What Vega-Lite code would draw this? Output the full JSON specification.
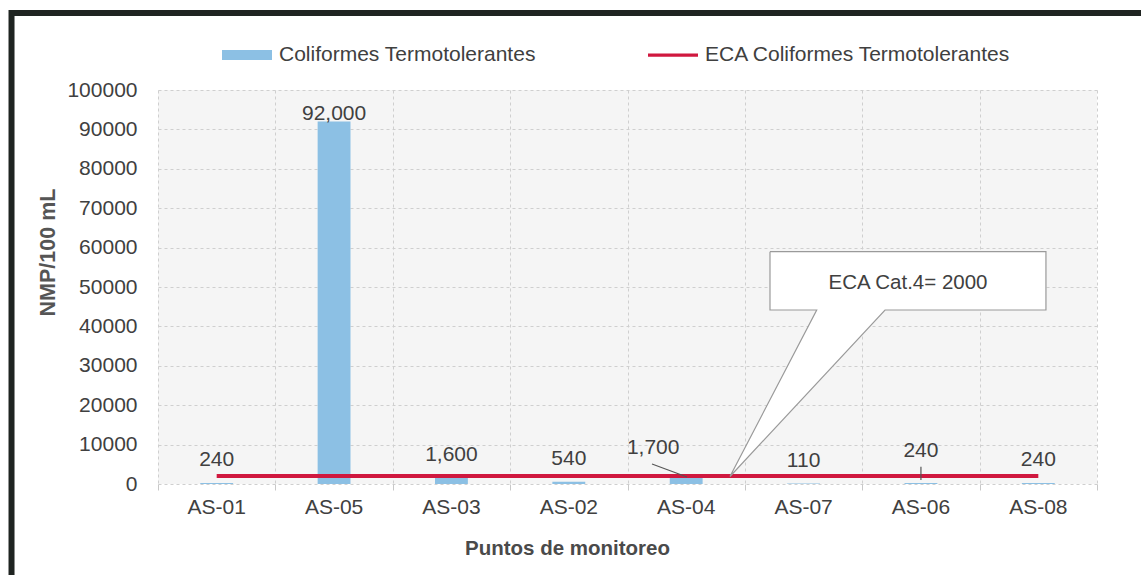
{
  "$schema": "https://vega.github.io/schema/vega-lite/v6.json",
  "width": 939,
  "height": 394,
  "autosize": "none",
  "padding": {"left": 158, "top": 90, "right": 44, "bottom": 91},
  "background": "white",
  "config": {
    "font": "Liberation Sans",
    "view": {"fill": "#f5f5f5", "stroke": null},
    "axisY": {
      "labelOverlap": false,
      "format": "d",
      "labelFontSize": 21,
      "labelColor": "#404040",
      "labelPadding": 21,
      "ticks": false,
      "domain": false,
      "grid": true,
      "gridColor": "#cfcfcf",
      "gridDash": [3, 3],
      "titleFontSize": 21.5,
      "titleFontWeight": "bold",
      "titleColor": "#555555",
      "titleX": -110,
      "titleY": 162,
      "titleAlign": "center",
      "titleBaseline": "middle"
    }
  },
  "datasets": {
    "puntos": [
      {"punto": "AS-01", "ct": 240, "eca": 2000},
      {"punto": "AS-05", "ct": 92000, "eca": 2000},
      {"punto": "AS-03", "ct": 1600, "eca": 2000},
      {"punto": "AS-02", "ct": 540, "eca": 2000},
      {"punto": "AS-04", "ct": 1700, "eca": 2000},
      {"punto": "AS-07", "ct": 110, "eca": 2000},
      {"punto": "AS-06", "ct": 240, "eca": 2000},
      {"punto": "AS-08", "ct": 240, "eca": 2000}
    ],
    "callout": [
      {"o": 1, "x": 5.214, "y": 58959},
      {"o": 2, "x": 7.565, "y": 58959},
      {"o": 3, "x": 7.565, "y": 44162},
      {"o": 4, "x": 6.194, "y": 44162},
      {"o": 5, "x": 4.873, "y": 1900},
      {"o": 6, "x": 5.612, "y": 44162},
      {"o": 7, "x": 5.214, "y": 44162},
      {"o": 8, "x": 5.214, "y": 58959}
    ],
    "guias": [
      {"g": "AS-04", "o": 1, "x": 4.209, "y": 5076},
      {"g": "AS-04", "o": 2, "x": 4.507, "y": 1777},
      {"g": "AS-06", "o": 1, "x": 6.5, "y": 4400},
      {"g": "AS-06", "o": 2, "x": 6.5, "y": 1000}
    ],
    "nota": [
      {"x": 6.39, "y": 50939, "t": "ECA Cat.4= 2000"}
    ],
    "marco": [
      {"x": -1.248, "x2": 9.5, "y": 119543, "y2": -30000}
    ]
  },
  "layer": [
    {
      "data": {"name": "puntos"},
      "layer": [
        {
          "mark": {"type": "bar", "width": {"band": 0.28}},
          "encoding": {
            "x": {
              "field": "punto",
              "type": "nominal",
              "scale": {
                "domain": ["AS-01", "AS-05", "AS-03", "AS-02", "AS-04", "AS-07", "AS-06", "AS-08"],
                "paddingInner": 0,
                "paddingOuter": 0
              },
              "axis": {
                "labelAngle": 0,
                "labelFontSize": 21,
                "labelColor": "#404040",
                "labelPadding": 12,
                "ticks": false,
                "domain": false,
                "grid": false,
                "title": "Puntos de monitoreo",
                "titleFontSize": 20.5,
                "titleFontWeight": "bold",
                "titleColor": "#4a4a4a",
                "titleX": 409,
                "titleY": 64,
                "titleAlign": "center",
                "titleBaseline": "middle"
              }
            },
            "y": {
              "field": "ct",
              "type": "quantitative",
              "scale": {"domain": [0, 100000], "nice": false, "zero": true},
              "axis": {
                "values": [0, 10000, 20000, 30000, 40000, 50000, 60000, 70000, 80000, 90000, 100000],
                "tickCount": 20,
                "labelOverlap": false,
                "title": "NMP/100 mL"
              }
            },
            "color": {
              "datum": "Coliformes Termotolerantes",
              "type": "nominal",
              "scale": {
                "domain": ["Coliformes Termotolerantes", "ECA Coliformes Termotolerantes"],
                "range": ["#8cc0e4", "#d0183f"]
              },
              "legend": {
                "title": null,
                "orient": "none",
                "legendX": 64,
                "legendY": -60,
                "direction": "horizontal",
                "columnPadding": 112,
                "labelOffset": 7,
                "labelFontSize": 21,
                "labelColor": "#404040",
                "labelLimit": 500,
                "symbolSize": 2500,
                "encode": {
                  "symbols": {
                    "update": {
                      "shape": {"signal": "datum.value === 'Coliformes Termotolerantes' ? 'M-1,-0.2H1V0.2H-1Z' : 'M-1,-0.065H1V0.065H-1Z'"},
                      "fill": {"scale": "color", "field": "value"},
                      "stroke": {"value": "transparent"},
                      "strokeWidth": {"value": 0},
                      "opacity": {"value": 1}
                    }
                  }
                }
              }
            }
          }
        },
        {
          "mark": {"type": "line", "strokeWidth": 4},
          "encoding": {
            "x": {"field": "punto", "type": "nominal"},
            "y": {"field": "eca", "type": "quantitative"},
            "color": {"datum": "ECA Coliformes Termotolerantes", "type": "nominal"}
          }
        },
        {
          "transform": [{"filter": "datum.ct > 10000"}],
          "mark": {"type": "text", "fontSize": 21, "color": "#404040", "baseline": "middle", "dy": -8},
          "encoding": {
            "x": {"field": "punto", "type": "nominal"},
            "y": {"field": "ct", "type": "quantitative"},
            "text": {"field": "ct", "type": "quantitative", "format": ",d"}
          }
        },
        {
          "transform": [{"filter": "datum.ct < 10000 && datum.punto !== 'AS-04' && datum.punto !== 'AS-06'"}],
          "mark": {"type": "text", "fontSize": 21, "color": "#404040", "baseline": "middle", "dy": -23},
          "encoding": {
            "x": {"field": "punto", "type": "nominal"},
            "y": {"field": "ct", "type": "quantitative"},
            "text": {"field": "ct", "type": "quantitative", "format": ",d"}
          }
        },
        {
          "transform": [{"filter": "datum.punto === 'AS-06'"}],
          "mark": {"type": "text", "fontSize": 21, "color": "#404040", "baseline": "middle", "dy": -32},
          "encoding": {
            "x": {"field": "punto", "type": "nominal"},
            "y": {"field": "ct", "type": "quantitative"},
            "text": {"field": "ct", "type": "quantitative", "format": ",d"}
          }
        },
        {
          "transform": [{"filter": "datum.punto === 'AS-04'"}],
          "mark": {"type": "text", "fontSize": 21, "color": "#404040", "baseline": "middle", "dx": -33, "dy": -29},
          "encoding": {
            "x": {"field": "punto", "type": "nominal"},
            "y": {"field": "ct", "type": "quantitative"},
            "text": {"field": "ct", "type": "quantitative", "format": ",d"}
          }
        }
      ]
    },
    {
      "layer": [
        {
          "data": {"name": "guias"},
          "mark": {"type": "line", "stroke": "#555555", "strokeWidth": 1.2},
          "encoding": {
            "x": {
              "field": "x",
              "type": "quantitative",
              "scale": {"domain": [0, 8], "nice": false, "zero": false},
              "axis": {
                "orient": "bottom",
                "values": [0, 1, 2, 3, 4, 5, 6, 7, 8],
                "tickCount": 20,
                "labels": false,
                "title": null,
                "domain": false,
                "ticks": true,
                "tickSize": 6,
                "tickColor": "#c8c8c8",
                "grid": true,
                "gridColor": "#cfcfcf",
                "gridDash": [3, 3]
              }
            },
            "y": {
              "field": "y",
              "type": "quantitative",
              "axis": {
                "values": [0, 10000, 20000, 30000, 40000, 50000, 60000, 70000, 80000, 90000, 100000],
                "tickCount": 20,
                "labelOverlap": false,
                "title": "NMP/100 mL"
              }
            },
            "detail": {"field": "g", "type": "nominal"},
            "order": {"field": "o", "type": "quantitative"}
          }
        },
        {
          "data": {"name": "callout"},
          "mark": {"type": "line", "fill": "white", "stroke": "#9a9a9a", "strokeWidth": 1.2},
          "encoding": {
            "x": {"field": "x", "type": "quantitative"},
            "y": {"field": "y", "type": "quantitative"},
            "order": {"field": "o", "type": "quantitative"}
          }
        },
        {
          "data": {"name": "nota"},
          "mark": {"type": "text", "fontSize": 20.5, "color": "#404040", "baseline": "middle", "align": "center"},
          "encoding": {
            "x": {"field": "x", "type": "quantitative"},
            "y": {"field": "y", "type": "quantitative"},
            "text": {"field": "t", "type": "nominal"}
          }
        },
        {
          "data": {"name": "marco"},
          "mark": {"type": "rect", "fill": "transparent", "stroke": "#1f2421", "strokeWidth": 6, "clip": false},
          "encoding": {
            "x": {"field": "x", "type": "quantitative"},
            "x2": {"field": "x2"},
            "y": {"field": "y", "type": "quantitative"},
            "y2": {"field": "y2"}
          }
        }
      ]
    }
  ],
  "resolve": {"scale": {"x": "independent"}}
}
